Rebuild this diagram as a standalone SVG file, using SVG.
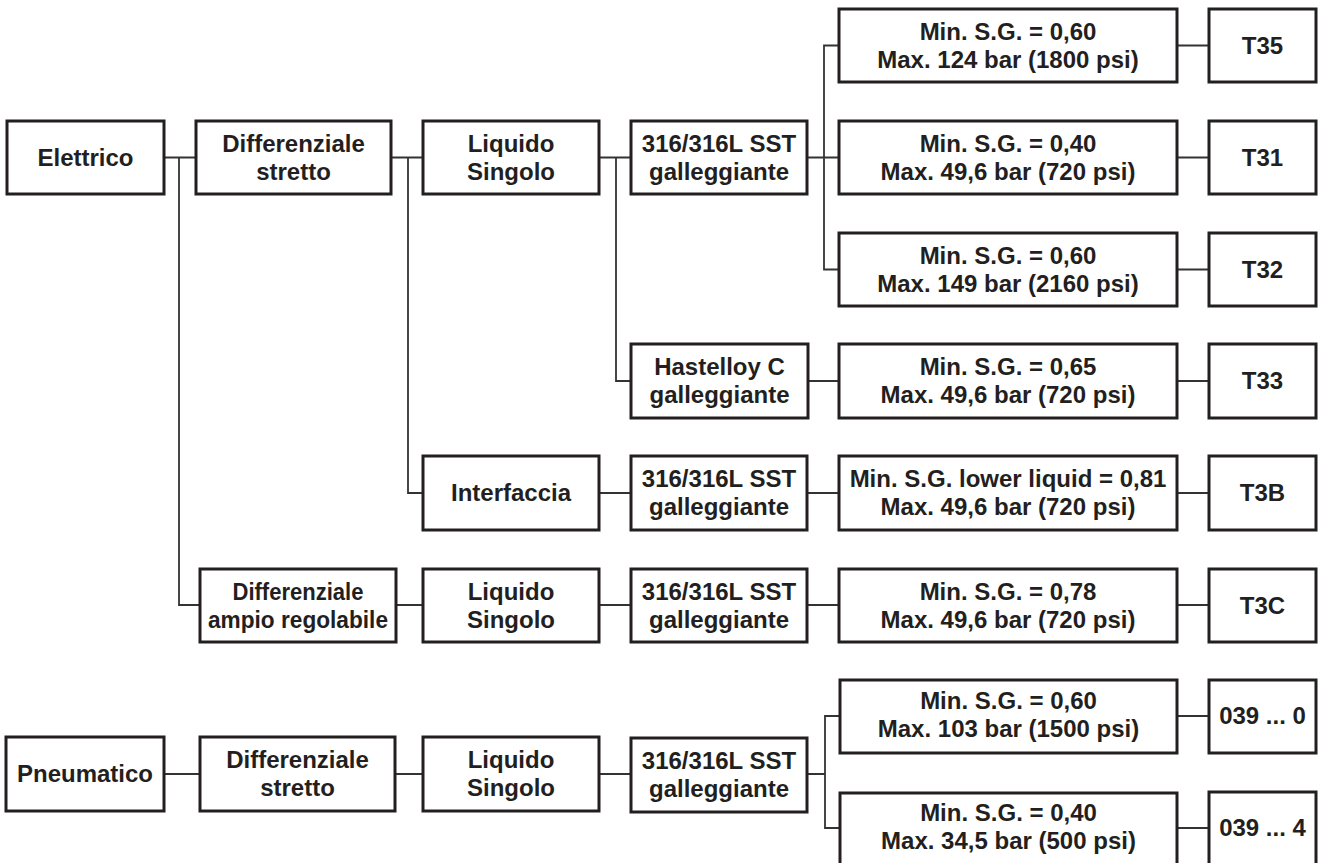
<svg xmlns="http://www.w3.org/2000/svg" width="1319" height="863" viewBox="0 0 1319 863">
<style>
.b{fill:#fff;stroke:#231f20;stroke-width:3}
.t{font-family:"Liberation Sans",Arial,sans-serif;font-weight:bold;font-size:24px;fill:#231f20;text-anchor:middle}
.c{fill:none;stroke:#333;stroke-width:1.8}
</style>
<rect width="1319" height="863" fill="#fff"/>
<g id="connectors">
<path class="c" d="M164 157.5H196M179 157.5V605H200M391 157.5H423M408 157.5V493H423M599 157.5H631M616 157.5V381H631M807 157.5H839M839 45.5H824V269.5H839"/>
<path class="c" d="M1177 45.5H1209M1177 157.5H1209M1177 269.5H1209M1177 381H1209M1177 493H1209M1177 605H1209"/>
<path class="c" d="M808 381H839M599 493H631M807 493H839M396 605H423M599 605H631M807 605H839"/>
<path class="c" d="M164 774H200M395 774H423M599 774H631M807 774H825M840 716H825V828H840M1177 716H1209M1177 828H1209"/>
</g>
<g id="n-elettrico"><rect class="b" x="7" y="121" width="157" height="73"/><text class="t" x="85.5" y="165.5">Elettrico</text></g>
<g id="n-diff1"><rect class="b" x="196" y="121" width="195" height="73"/><text class="t" x="293.5" y="151.5">Differenziale</text><text class="t" x="293.5" y="179.5">stretto</text></g>
<g id="n-liq1"><rect class="b" x="423" y="121" width="176" height="73"/><text class="t" x="511" y="151.5">Liquido</text><text class="t" x="511" y="179.5">Singolo</text></g>
<g id="n-sst1"><rect class="b" x="631" y="121" width="176" height="73"/><text class="t" x="719" y="151.5">316/316L SST</text><text class="t" x="719" y="179.5">galleggiante</text></g>
<g id="n-min35"><rect class="b" x="839" y="9" width="338" height="73"/><text class="t" x="1008" y="39.5">Min. S.G. = 0,60</text><text class="t" x="1008" y="67.5">Max. 124 bar (1800 psi)</text></g>
<g id="n-t35"><rect class="b" x="1209" y="9" width="107" height="73"/><text class="t" x="1262.5" y="53.5">T35</text></g>
<g id="n-min31"><rect class="b" x="839" y="121" width="338" height="73"/><text class="t" x="1008" y="151.5">Min. S.G. = 0,40</text><text class="t" x="1008" y="179.5">Max. 49,6 bar (720 psi)</text></g>
<g id="n-t31"><rect class="b" x="1209" y="121" width="107" height="73"/><text class="t" x="1262.5" y="165.5">T31</text></g>
<g id="n-min32"><rect class="b" x="839" y="233" width="338" height="73"/><text class="t" x="1008" y="263.5">Min. S.G. = 0,60</text><text class="t" x="1008" y="291.5">Max. 149 bar (2160 psi)</text></g>
<g id="n-t32"><rect class="b" x="1209" y="233" width="107" height="73"/><text class="t" x="1262.5" y="277.5">T32</text></g>
<g id="n-hast"><rect class="b" x="631" y="344" width="177" height="74"/><text class="t" x="719.5" y="375">Hastelloy C</text><text class="t" x="719.5" y="403">galleggiante</text></g>
<g id="n-min33"><rect class="b" x="839" y="344" width="338" height="74"/><text class="t" x="1008" y="375">Min. S.G. = 0,65</text><text class="t" x="1008" y="403">Max. 49,6 bar (720 psi)</text></g>
<g id="n-t33"><rect class="b" x="1209" y="344" width="107" height="74"/><text class="t" x="1262.5" y="389">T33</text></g>
<g id="n-interf"><rect class="b" x="423" y="456" width="176" height="74"/><text class="t" x="511" y="501">Interfaccia</text></g>
<g id="n-sst2"><rect class="b" x="631" y="456" width="176" height="74"/><text class="t" x="719" y="487">316/316L SST</text><text class="t" x="719" y="515">galleggiante</text></g>
<g id="n-min3b"><rect class="b" x="839" y="456" width="338" height="74"/><text class="t" x="1008" y="487">Min. S.G. lower liquid = 0,81</text><text class="t" x="1008" y="515">Max. 49,6 bar (720 psi)</text></g>
<g id="n-t3b"><rect class="b" x="1209" y="456" width="107" height="74"/><text class="t" x="1262.5" y="501">T3B</text></g>
<g id="n-diffampio"><rect class="b" x="200" y="569" width="196" height="73"/><text class="t" x="298" y="599.5" textLength="131" lengthAdjust="spacingAndGlyphs">Differenziale</text><text class="t" x="298" y="627.5" textLength="180" lengthAdjust="spacingAndGlyphs">ampio regolabile</text></g>
<g id="n-liq2"><rect class="b" x="423" y="569" width="176" height="73"/><text class="t" x="511" y="599.5">Liquido</text><text class="t" x="511" y="627.5">Singolo</text></g>
<g id="n-sst3"><rect class="b" x="631" y="569" width="176" height="73"/><text class="t" x="719" y="599.5">316/316L SST</text><text class="t" x="719" y="627.5">galleggiante</text></g>
<g id="n-min3c"><rect class="b" x="839" y="569" width="338" height="73"/><text class="t" x="1008" y="599.5">Min. S.G. = 0,78</text><text class="t" x="1008" y="627.5">Max. 49,6 bar (720 psi)</text></g>
<g id="n-t3c"><rect class="b" x="1209" y="569" width="107" height="73"/><text class="t" x="1262.5" y="613.5">T3C</text></g>
<g id="n-pneu"><rect class="b" x="6" y="737" width="158" height="74"/><text class="t" x="85" y="782">Pneumatico</text></g>
<g id="n-diff2"><rect class="b" x="200" y="737" width="195" height="74"/><text class="t" x="297.5" y="768">Differenziale</text><text class="t" x="297.5" y="796">stretto</text></g>
<g id="n-liq3"><rect class="b" x="423" y="737" width="176" height="74"/><text class="t" x="511" y="768">Liquido</text><text class="t" x="511" y="796">Singolo</text></g>
<g id="n-sst4"><rect class="b" x="631" y="738" width="176" height="74"/><text class="t" x="719" y="769">316/316L SST</text><text class="t" x="719" y="797">galleggiante</text></g>
<g id="n-min0"><rect class="b" x="840" y="680" width="337" height="73"/><text class="t" x="1008.5" y="709">Min. S.G. = 0,60</text><text class="t" x="1008.5" y="737">Max. 103 bar (1500 psi)</text></g>
<g id="n-b0"><rect class="b" x="1209" y="680" width="107" height="73"/><text class="t" x="1262.5" y="724">039 ... 0</text></g>
<g id="n-min4"><rect class="b" x="840" y="793" width="337" height="90"/><text class="t" x="1008.5" y="821">Min. S.G. = 0,40</text><text class="t" x="1008.5" y="849">Max. 34,5 bar (500 psi)</text></g>
<g id="n-b4"><rect class="b" x="1209" y="792" width="107" height="90"/><text class="t" x="1262.5" y="836">039 ... 4</text></g>
</svg>
